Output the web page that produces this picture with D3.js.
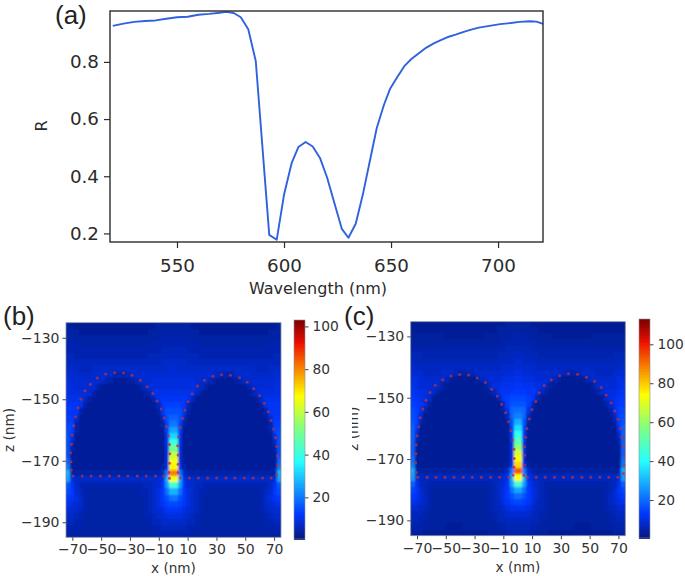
<!DOCTYPE html>
<html><head><meta charset="utf-8">
<script src="https://cdn.jsdelivr.net/npm/d3@7/dist/d3.min.js"></script>
<style>html,body{margin:0;padding:0;background:#fff}svg{display:block}text{font-family:"DejaVu Sans",sans-serif;fill:#2b2b2b}</style>
</head><body><svg id="c" width="685" height="576"></svg>
<script>
// Panel (a)
const wavelength=[520,525,530,535,540,545,550,555,560,565,570,573,576.5,579.8,583.3,586.8,593.1,596.6,600,603.6,606.7,610.1,613.4,616.8,620.2,623.5,627,630.1,633.5,636.8,640.2,643.3,646.7,649.5,652.8,656.2,659.5,663,666.5,670,673,677,680.5,684,687,691,696,701,706,710,715,718,721];
const reflect=[0.926,0.934,0.94,0.943,0.945,0.951,0.956,0.958,0.965,0.968,0.972,0.975,0.971,0.956,0.914,0.803,0.195,0.178,0.335,0.447,0.502,0.52,0.504,0.464,0.394,0.307,0.216,0.185,0.234,0.335,0.457,0.568,0.65,0.705,0.745,0.785,0.81,0.83,0.85,0.865,0.875,0.888,0.896,0.905,0.912,0.92,0.926,0.932,0.936,0.94,0.942,0.941,0.933];
const xTicksA=[550,600,650,700], yTicksA=[0.2,0.4,0.6,0.8];
// Heat maps: half grid, mirrored about x = 0
const gridX=[1.5,4.5,7.5,10.5,13.5,16.5,19.5,22.5,25.5,28.5,31.5,34.5,37.5,40.5,43.5,46.5,49.5,52.5,55.5,58.5,61.5,64.5,67.5,70.5,73.5];
const gridZ=[-126,-128,-130,-132,-134,-136,-138,-140,-142,-144,-146,-148,-150,-152,-154,-156,-158,-160,-162,-164,-166,-168,-170,-172,-174,-176,-178,-180,-182,-184,-186,-188,-190,-192,-194];
const fieldB=[
[4,4,4,4,3,3,3,3,3,3,3,3,3,3,3,3,3,3,3,3,3,3,3,3,4],
[4,4,4,4,4,4,3,3,3,3,3,3,3,3,3,3,3,3,3,3,3,3,4,4,4],
[5,5,5,4,4,4,4,4,4,4,4,4,4,4,4,4,4,4,4,4,4,4,4,4,4],
[5,5,5,5,5,5,4,4,4,4,4,4,4,4,4,4,4,4,4,4,4,4,5,5,5],
[6,6,6,5,5,5,5,5,5,5,5,5,5,5,5,5,5,5,5,5,5,5,5,5,5],
[6,6,6,6,6,6,5,5,5,5,5,5,5,5,5,5,5,5,5,5,5,5,5,6,6],
[7,7,7,6,6,6,6,6,6,6,6,6,6,6,6,6,6,6,6,6,6,6,6,6,6],
[8,7,7,7,7,7,7,7,7,7,7,7,7,7,7,7,7,7,7,6,6,6,7,7,7],
[8,8,8,8,8,8,8,8,8,8,6,5,5,5,7,8,8,7,7,7,7,7,7,8,8],
[9,9,9,9,9,8,8,8,6,4,3,3,3,3,4,5,7,8,8,8,8,8,8,8,9],
[9,9,9,9,9,9,7,4,3,3,3,3,3,3,3,3,3,5,8,8,8,8,8,9,9],
[10,10,10,10,10,6,4,3,3,3,3,3,3,3,3,3,3,3,5,8,9,9,9,9,9],
[11,11,11,10,6,3,3,3,3,3,3,3,3,3,3,3,3,3,3,4,8,10,10,10,10],
[13,13,12,6,3,3,3,3,3,3,3,3,3,3,3,3,3,3,3,3,5,10,11,11,11],
[15,15,11,4,3,3,3,3,3,3,3,3,3,3,3,3,3,3,3,3,3,5,11,11,11],
[17,15,7,3,3,3,3,3,3,3,3,3,3,3,3,3,3,3,3,3,3,3,8,12,12],
[20,13,4,3,3,3,3,3,3,3,3,3,3,3,3,3,3,3,3,3,3,3,5,13,13],
[25,13,3,3,3,3,3,3,3,3,3,3,3,3,3,3,3,3,3,3,3,3,4,13,14],
[31,11,3,3,3,3,3,3,3,3,3,3,3,3,3,3,3,3,3,3,3,3,3,10,15],
[40,10,3,3,3,3,3,3,3,3,3,3,3,3,3,3,3,3,3,3,3,3,3,7,15],
[50,9,3,3,3,3,3,3,3,3,3,3,3,3,3,3,3,3,3,3,3,3,3,4,15],
[60,9,3,3,3,3,3,3,3,3,3,3,3,3,3,3,3,3,3,3,3,3,3,3,15],
[66,9,3,3,3,3,3,3,3,3,3,3,3,3,3,3,3,3,3,3,3,3,3,3,17],
[68,10,4,3,3,3,3,3,3,3,3,3,3,3,3,3,3,3,3,3,3,3,3,3,20],
[80,20,7,5,4,4,4,4,4,4,4,4,4,4,4,4,4,4,4,4,4,4,4,5,27],
[66,26,10,8,7,7,7,7,7,7,7,7,7,7,7,7,7,7,7,7,7,7,7,9,25],
[42,24,11,8,7,6,6,5,5,5,5,5,5,5,5,5,5,5,5,5,5,5,7,11,16],
[27,19,12,9,7,6,5,5,4,4,4,4,4,4,4,4,4,4,4,4,5,6,8,12,14],
[19,15,12,9,7,6,5,4,4,4,4,4,4,4,4,4,4,4,4,4,5,7,9,11,12],
[14,13,11,9,7,6,5,4,4,4,4,4,4,4,4,4,4,4,4,4,5,7,8,9,10],
[11,11,9,8,7,6,5,4,4,4,4,4,4,4,4,4,4,4,4,4,5,6,7,8,8],
[9,9,8,7,6,5,5,4,4,4,4,4,4,4,4,4,4,4,4,4,4,5,6,7,7],
[7,7,7,6,6,5,4,4,4,4,4,4,4,4,4,4,4,4,4,4,4,5,5,6,6],
[6,6,6,5,5,4,4,4,4,4,4,4,4,4,4,4,4,4,4,4,4,4,5,5,5],
[5,5,5,5,4,4,4,4,4,4,4,4,4,4,4,4,4,4,4,4,4,4,4,4,4]];
const fieldC=[
[4,4,4,3,3,3,3,3,3,3,3,3,3,3,3,3,3,3,3,3,3,3,3,3,3],
[4,4,4,4,4,3,3,3,3,3,3,3,3,3,3,3,3,3,3,3,3,3,3,3,3],
[5,5,4,4,4,4,4,4,3,3,3,3,3,3,3,3,3,4,4,4,4,4,4,4,4],
[5,5,5,5,4,4,4,4,4,4,4,4,4,4,4,4,4,4,4,4,4,4,4,4,4],
[6,6,6,5,5,5,5,5,5,5,5,5,5,5,5,5,5,5,5,5,5,5,5,5,5],
[7,7,6,6,6,5,5,5,5,5,5,5,5,5,5,5,5,5,5,5,5,5,6,6,6],
[8,7,7,7,6,6,6,6,6,6,6,6,6,6,6,6,6,6,6,6,6,6,6,6,7],
[9,8,8,8,7,7,7,7,7,7,7,7,7,7,7,7,7,7,7,7,7,7,7,7,8],
[10,9,9,8,8,8,8,8,8,8,7,6,5,5,7,8,8,8,7,7,7,7,8,8,9],
[11,10,10,10,9,9,9,8,7,4,3,3,3,3,3,4,7,8,8,8,8,8,9,10,10],
[12,11,11,11,10,10,8,4,3,3,3,3,3,3,3,3,3,4,8,9,9,9,9,10,11],
[13,13,12,12,11,7,4,3,3,3,3,3,3,3,3,3,3,3,4,8,9,10,10,11,12],
[15,15,14,12,6,3,3,3,3,3,3,3,3,3,3,3,3,3,3,3,8,10,11,12,13],
[17,17,14,6,3,3,3,3,3,3,3,3,3,3,3,3,3,3,3,3,4,9,11,13,14],
[20,19,11,4,3,3,3,3,3,3,3,3,3,3,3,3,3,3,3,3,3,5,11,14,15],
[23,19,7,3,3,3,3,3,3,3,3,3,3,3,3,3,3,3,3,3,3,3,8,14,16],
[29,17,4,3,3,3,3,3,3,3,3,3,3,3,3,3,3,3,3,3,3,3,5,14,17],
[35,15,3,3,3,3,3,3,3,3,3,3,3,3,3,3,3,3,3,3,3,3,3,12,18],
[42,13,3,3,3,3,3,3,3,3,3,3,3,3,3,3,3,3,3,3,3,3,3,8,18],
[50,11,3,3,3,3,3,3,3,3,3,3,3,3,3,3,3,3,3,3,3,3,3,5,18],
[58,10,3,3,3,3,3,3,3,3,3,3,3,3,3,3,3,3,3,3,3,3,3,3,18],
[68,10,3,3,3,3,3,3,3,3,3,3,3,3,3,3,3,3,3,3,3,3,3,3,18],
[74,10,3,3,3,3,3,3,3,3,3,3,3,3,3,3,3,3,3,3,3,3,3,3,20],
[78,11,4,3,3,3,3,3,3,3,3,3,3,3,3,3,3,3,3,3,3,3,3,3,22],
[92,22,8,5,4,4,4,4,4,4,4,4,4,4,4,4,4,4,4,4,4,4,4,5,28],
[74,30,11,9,7,7,7,7,7,7,7,7,7,7,7,7,7,7,7,7,7,7,7,9,26],
[46,27,12,9,8,6,5,5,5,5,5,5,5,5,5,5,5,5,5,5,5,6,7,11,18],
[28,21,13,10,8,6,5,4,4,4,4,4,4,4,4,4,4,4,4,4,5,6,8,12,15],
[20,17,13,10,8,6,5,4,4,4,4,4,4,4,4,4,4,4,4,4,5,7,9,11,13],
[15,14,12,10,7,6,5,4,4,4,4,4,4,4,4,4,4,4,4,4,5,7,8,10,11],
[11,11,10,8,7,6,5,4,4,4,4,4,4,4,4,4,4,4,4,4,5,6,7,8,9],
[9,9,8,7,6,5,5,4,4,4,4,4,4,4,4,4,4,4,4,4,4,5,6,7,7],
[7,7,7,6,6,5,4,4,4,4,4,4,4,4,4,4,4,4,4,4,4,5,5,6,6],
[6,6,6,5,5,4,4,4,4,4,4,4,4,3,3,3,3,4,4,4,4,4,5,5,5],
[5,5,5,4,4,4,4,3,3,3,3,3,3,3,3,3,3,3,3,3,3,3,4,4,4]];
const dotsBx=[-70.7,-70.9,-71.2,-70.7,-70.2,-69.1,-67.7,-66.1,-64,-61.2,-57.5,-52.6,-46.9,-40.6,-34.4,-28.6,-22.8,-18.1,-14.2,-11.2,-8.4,-6.3,-4.7,-3.3,-2.6,-2.4,-2.6,-3.1,-2.6,3.4,3.4,3.4,3.1,3.8,5,6.6,8.2,10.3,13.1,16.8,21.7,27.5,33.5,39.7,46,51.3,55.9,59.9,63.1,65.9,68,69.8,71,71.9,72.4,72.6,71.7,-69.5,-63.2,-57,-50.5,-44.2,-37.7,-31.5,-25,-18.8,-12.3,-6.5,5,11.2,17.5,23.9,30.1,36.6,42.8,49.3,55.5,62,68];
const dotsBz=[-173,-170.3,-167.4,-164.6,-161.6,-158.6,-155.7,-152.8,-150,-147.2,-145.1,-143.1,-141.8,-141.4,-141.5,-142.2,-143.8,-145.9,-148.1,-150.6,-153.2,-156.1,-158.9,-161.9,-164.7,-167.7,-170.8,-173.8,-175.7,-173.8,-171.1,-168.1,-165.1,-162.2,-159.1,-156.2,-153.5,-150.8,-148.2,-145.7,-143.8,-142.5,-142,-142.2,-143,-144.5,-146.6,-148.9,-151.3,-154.1,-156.9,-159.7,-162.5,-165.4,-168.4,-171.4,-174.6,-175,-175,-175,-175,-175,-175,-175,-175,-175,-175,-175,-175.6,-175.6,-175.6,-175.6,-175.6,-175.6,-175.6,-175.6,-175.6,-175.6,-175.6];
const dotsCx=[-70.5,-70.9,-70.7,-70.5,-70,-68.8,-67.7,-65.8,-63.8,-61,-57.3,-52.2,-46.4,-40.4,-34.1,-28.1,-22.5,-18.1,-14.2,-11.2,-8.4,-6.3,-4.7,-3.6,-2.6,-2.4,-2.6,-3.3,4.3,4.8,4.8,4.8,5.5,6.4,8,9.9,12.6,15,18.4,23.3,29.1,35.3,41.6,47.8,53.4,58,61.5,65,67.5,69.8,71.4,72.4,73.5,74.2,74.2,73.5,-69.5,-63,-56.8,-50.6,-44.3,-37.8,-31.6,-25.3,-18.8,-12.6,-6.1,6.6,12.9,19.1,25.6,31.9,38.1,44.6,50.8,57.1,63.3,69.6];
const dotsCz=[-174.4,-171.2,-168.3,-165.4,-162.4,-159.5,-156.5,-153.7,-150.8,-148.3,-145.9,-144.1,-142.9,-142.4,-142.6,-143.6,-145,-147.2,-149.5,-152.1,-154.9,-157.8,-160.8,-163.8,-166.8,-169.8,-172.7,-175.3,-175.3,-172,-168.8,-166,-162.9,-160,-156.9,-153.8,-151.2,-148.4,-146,-144.1,-142.8,-142.2,-142.3,-143.3,-144.6,-146.7,-149.1,-151.6,-154.3,-157,-160,-162.9,-166,-169,-172,-174.7,-175.9,-175.9,-175.9,-175.9,-175.9,-175.9,-175.9,-175.9,-175.9,-175.9,-175.9,-175.9,-175.9,-175.9,-175.9,-175.9,-175.9,-175.9,-175.9,-175.9,-175.9,-175.9];
const xTicksH=[-70,-50,-30,-10,10,30,50,70], zTicksH=[-130,-150,-170,-190];
const cbTicksB=[20,40,60,80,100], cbTicksC=[20,40,60,80,100];
const minus=v=>String(v).replace("-","\u2212");

const svg=d3.select("#c");
const defs=svg.append("defs");
defs.append("filter").attr("id","soft").attr("x","-5%").attr("y","-5%").attr("width","110%").attr("height","110%")
  .append("feGaussianBlur").attr("stdDeviation",1.3);

// ---- panel a
const xA=d3.scaleLinear().domain([518.7,721]).range([110,543]);
const yA=d3.scaleLinear().domain([0.17,0.978]).range([242,11]);
const gA=svg.append("g");
gA.append("path").datum(wavelength.map((w,i)=>[w,reflect[i]]))
  .attr("fill","none").attr("stroke","#2f62dc").attr("stroke-width",1.9).attr("stroke-linejoin","round")
  .attr("d",d3.line().x(d=>xA(d[0])).y(d=>yA(d[1])));
gA.append("rect").attr("x",110).attr("y",11).attr("width",433).attr("height",231).attr("fill","none").attr("stroke","#2b2b2b").attr("stroke-width",1.4);
const axA=gA.append("g").attr("transform","translate(0,242)").call(d3.axisBottom(xA).tickValues(xTicksA).tickSize(6).tickPadding(11).tickFormat(d3.format("d")));
const ayA=gA.append("g").attr("transform","translate(110,0)").call(d3.axisLeft(yA).tickValues(yTicksA).tickSize(6).tickPadding(5).tickFormat(d3.format(".1f")));
[axA,ayA].forEach(a=>{a.select(".domain").remove();a.selectAll("line").attr("stroke","#2b2b2b").attr("stroke-width",1.2);a.selectAll("text").style("font-size","18.3px").style("font-family","DejaVu Sans");});
svg.append("text").attr("x",318).attr("y",294).attr("text-anchor","middle").style("font-size","16px").text("Wavelength (nm)");
svg.append("text").attr("transform","translate(47,126) rotate(-90)").attr("text-anchor","middle").style("font-size","16px").text("R");
const panelLabel=(t,x,y)=>svg.append("text").attr("x",x).attr("y",y).style("font-family","Liberation Sans").style("font-size","26px").style("fill","#222").text(t);
panelLabel("(a)",55,24);panelLabel("(b)",3,325);panelLabel("(c)",344,325);

// ---- heat panels
const jetStops=[0,0.11,0.35,0.5,0.65,0.89,1];
const jetColors=["#08177c","#0036ff","#25ffff","#80ff80","#ffff00","#f01000","#7a0000"];
function heat(id,field,dx,dz,cfg){
  const x=d3.scaleLinear().domain([-74.4,74.8]).range([cfg.l,cfg.r]);
  const z=d3.scaleLinear().domain(cfg.zd).range([cfg.t,cfg.b]);
  const jet=d3.scaleLinear().domain(jetStops.map(s=>cfg.cmin+s*(cfg.cmax-cfg.cmin))).range(jetColors).clamp(true);
  const g=svg.append("g");
  defs.append("clipPath").attr("id","clip"+id).append("rect").attr("x",cfg.l).attr("y",cfg.t).attr("width",cfg.r-cfg.l).attr("height",cfg.b-cfg.t);
  const cells=[];
  field.forEach((row,j)=>row.forEach((v,i)=>{[1,-1].forEach(s=>cells.push({x:s*gridX[i],z:gridZ[j],v}));}));
  const holder=g.append("g").attr("clip-path",`url(#clip${id})`);
  const inner=holder.append("g").attr("filter","url(#soft)");
  inner.append("rect").attr("x",cfg.l-12).attr("y",cfg.t-12).attr("width",cfg.r-cfg.l+24).attr("height",cfg.b-cfg.t+24).attr("fill",jet(4));
  inner.selectAll("rect.c").data(cells).join("rect").attr("class","c")
    .attr("x",d=>x(d.x-1.5)).attr("width",d=>x(d.x+1.5)-x(d.x-1.5)+0.5)
    .attr("y",d=>z(d.z+1)).attr("height",d=>z(d.z-1)-z(d.z+1)+0.5)
    .attr("shape-rendering","crispEdges").attr("fill",d=>jet(d.v));
  holder.selectAll("circle").data(dx.map((v,i)=>[v,dz[i]])).join("circle")
    .attr("cx",d=>x(d[0])).attr("cy",d=>z(d[1])).attr("r",1.5).attr("fill","#b5303f").attr("fill-opacity",0.8);
  g.append("rect").attr("x",cfg.l).attr("y",cfg.t).attr("width",cfg.r-cfg.l).attr("height",cfg.b-cfg.t).attr("fill","none").attr("stroke","#8a8f9c").attr("stroke-width",0.8);
  const ax=g.append("g").attr("transform",`translate(0,${cfg.b})`).call(d3.axisBottom(x).tickValues(xTicksH).tickSize(3.5).tickPadding(3.5).tickFormat(minus));
  const ay=g.append("g").attr("transform",`translate(${cfg.l},0)`).call(d3.axisLeft(z).tickValues(zTicksH).tickSize(3.5).tickPadding(3).tickFormat(minus));
  [ax,ay].forEach(a=>{a.select(".domain").remove();a.selectAll("line").attr("stroke","#444");a.selectAll("text").style("font-size","14px").style("font-family","DejaVu Sans").style("fill","#333");});
  g.append("text").attr("x",(cfg.l+cfg.r)/2).attr("y",cfg.b+36).attr("text-anchor","middle").style("font-size","13.6px").style("fill","#333").text("x (nm)");
  const zl=g.append("text").attr("transform",`translate(${cfg.zlx},${(cfg.t+cfg.b)/2}) rotate(-90)`).attr("text-anchor","middle").style("font-size","13.6px").style("fill","#333").text("z (nm)");
  if(cfg.zclip!==undefined){
    defs.append("clipPath").attr("id","zc"+id).append("rect").attr("x",cfg.zclip).attr("y",cfg.t).attr("width",30).attr("height",cfg.b-cfg.t);
    g.append("g").attr("clip-path",`url(#zc${id})`).node().appendChild(zl.node());
  }
  // colour bar
  const c=d3.scaleLinear().domain([cfg.cmin,cfg.cmax]).range([cfg.cb,cfg.ct]);
  const levels=d3.range(cfg.cmin,cfg.cmax,(cfg.cmax-cfg.cmin)/110);
  g.selectAll("rect.bar").data(levels).join("rect").attr("class","bar")
    .attr("x",cfg.cl).attr("width",cfg.cr-cfg.cl).attr("y",d=>c(d+(cfg.cmax-cfg.cmin)/110)).attr("height",(cfg.cb-cfg.ct)/110+0.6)
    .attr("shape-rendering","crispEdges").attr("fill",d=>jet(d));
  g.append("rect").attr("x",cfg.cl).attr("y",cfg.ct).attr("width",cfg.cr-cfg.cl).attr("height",cfg.cb-cfg.ct).attr("fill","none").attr("stroke","#8a8f9c").attr("stroke-width",0.6);
  const ac=g.append("g").attr("transform",`translate(${cfg.cr},0)`).call(d3.axisRight(c).tickValues(cfg.cticks).tickSize(3.5).tickPadding(4));
  ac.select(".domain").remove();ac.selectAll("line").attr("stroke","#444");ac.selectAll("text").style("font-size","13.8px").style("font-family","DejaVu Sans").style("fill","#333");
}
heat("b",fieldB,dotsBx,dotsBz,{l:66,r:281,t:322.7,b:537.3,zd:[-125.1,-194.9],cmin:0.5,cmax:103,cl:294,cr:305,ct:320,cb:539,cticks:cbTicksB,zlx:14});
heat("cc",fieldC,dotsCx,dotsCz,{l:410.7,r:625.3,t:321.7,b:535.7,zd:[-125.2,-195],cmin:0.5,cmax:113,cl:639,cr:650,ct:319,cb:538,cticks:cbTicksC,zlx:358,zclip:352});
</script></body></html>
